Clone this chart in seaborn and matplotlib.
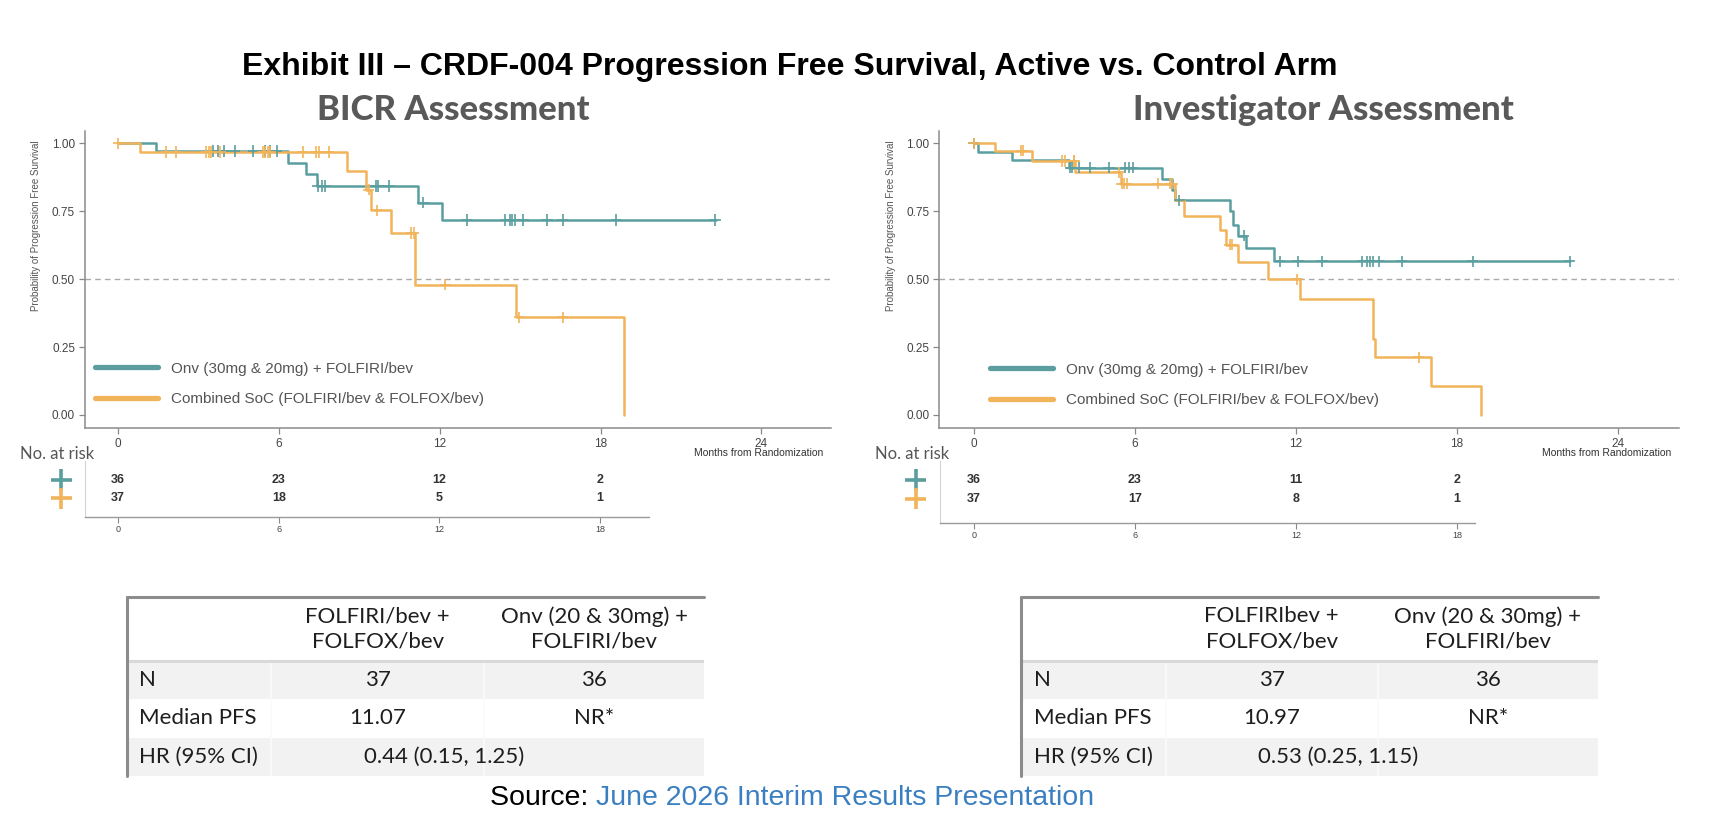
import numpy as np
import pandas as pd
import seaborn as sns
import matplotlib.pyplot as plt
import matplotlib.transforms as mtransforms
from matplotlib.lines import Line2D
from matplotlib.patches import Rectangle

# ---- data ----
arm_names = ["Onv (30mg & 20mg) + FOLFIRI/bev",
             "Combined SoC (FOLFIRI/bev & FOLFOX/bev)"]

# BICR assessment (step times in months, survival after each step)
onv_bicr_t = [0, 1.4, 6.35, 7.0, 7.4, 11.2, 12.07]
onv_bicr_s = [1.0, 0.972, 0.929, 0.886, 0.843, 0.781, 0.718]
onv_bicr_end = 22.3
onv_bicr_cens = [3.55, 3.73, 3.94, 4.34, 5.04, 5.48, 5.66, 5.92, 7.45, 7.59,
                 7.73, 9.61, 9.70, 10.1, 11.37, 13.0, 14.45, 14.62, 14.71,
                 14.8, 15.11, 16.0, 16.59, 18.58, 22.27]

soc_bicr_t = [0, 0.83, 8.52, 9.23, 9.44, 10.18, 11.07, 14.85, 18.87]
soc_bicr_s = [1.0, 0.968, 0.898, 0.83, 0.754, 0.67, 0.479, 0.36, 0.0]
soc_bicr_end = 18.87
soc_bicr_cens = [0.0, 1.79, 2.14, 3.29, 3.37, 3.46, 3.81, 5.40, 5.48, 5.57,
                 5.66, 6.89, 7.38, 7.50, 7.86, 9.35, 9.65, 10.93, 11.02,
                 12.2, 14.97, 16.59]

# Investigator assessment
onv_inv_t = [0, 0.18, 1.43, 3.56, 7.0, 7.40, 7.50, 9.53, 9.67, 9.85, 10.15, 11.17]
onv_inv_s = [1.0, 0.969, 0.938, 0.91, 0.87, 0.83, 0.79, 0.75, 0.70, 0.66, 0.615, 0.565]
onv_inv_end = 22.2
onv_inv_cens = [0.0, 3.6, 3.65, 3.92, 4.33, 5.04, 5.65, 5.79, 5.93, 7.66,
                10.06, 11.4, 12.08, 12.97, 14.48, 14.66, 14.75, 14.87,
                15.09, 15.94, 18.58, 22.2]

soc_inv_t = [0, 0.8, 2.17, 3.78, 5.49, 7.48, 7.84, 9.17, 9.39, 9.85, 10.95,
             12.17, 14.87, 14.96, 17.05, 18.88]
soc_inv_s = [1.0, 0.973, 0.935, 0.894, 0.852, 0.793, 0.734, 0.68, 0.627,
             0.562, 0.50, 0.427, 0.28, 0.212, 0.107, 0.0]
soc_inv_end = 18.88
soc_inv_cens = [0.0, 1.78, 1.84, 3.3, 3.4, 3.72, 3.75, 5.4, 5.52, 5.61, 5.7,
                6.86, 7.3, 7.39, 9.53, 9.62, 12.06, 16.57]

# numbers at risk
risk_months = [0, 6, 12, 18]
risk_onv_bicr = [36, 23, 12, 2]
risk_soc_bicr = [37, 18, 5, 1]
risk_onv_inv = [36, 23, 11, 2]
risk_soc_inv = [37, 17, 8, 1]

# summary tables
row_labels = ["N", "Median PFS", "HR (95% CI)"]
head_bicr = ["FOLFIRI/bev +\nFOLFOX/bev", "Onv (20 & 30mg) +\nFOLFIRI/bev"]
head_inv = ["FOLFIRIbev +\nFOLFOX/bev", "Onv (20 & 30mg) +\nFOLFIRI/bev"]
n_vals = ["37", "36"]
med_bicr = ["11.07", "NR*"]
med_inv = ["10.97", "NR*"]
hr_bicr = "0.44 (0.15, 1.25)"
hr_inv = "0.53 (0.25, 1.15)"

TEAL = "#5b9ea0"
ORANGE = "#f1b45a"
palette = {arm_names[0]: TEAL, arm_names[1]: ORANGE}

sns.set_style("white")
NARROW = ["Liberation Sans Narrow", "Liberation Sans", "DejaVu Sans"]
plt.rcParams["font.family"] = NARROW

fig = plt.figure(figsize=(17.26, 8.34), dpi=100)


def step_frame(t, s, end, name):
    tt = list(t)
    ss = list(s)
    if end > tt[-1]:
        tt.append(end)
        ss.append(ss[-1])
    return pd.DataFrame({"month": tt, "surv": ss, "arm": name})


def cens_frame(t, s, cens, name):
    idx = np.searchsorted(t, cens, side="right") - 1
    return pd.DataFrame({"month": cens, "surv": np.array(s)[idx], "arm": name})


def km_panel(ax, arms, xlim, leg_xy):
    steps = pd.concat([step_frame(t, s, e, n) for (t, s, e, c), n in zip(arms, arm_names)])
    cens = pd.concat([cens_frame(t, s, c, n) for (t, s, e, c), n in zip(arms, arm_names)])
    ax.axhline(0.5, color="#aaaaaa", ls=(0, (4, 3)), lw=1.0, zorder=1)
    sns.lineplot(data=steps, x="month", y="surv", hue="arm", palette=palette,
                 drawstyle="steps-post", lw=1.8, estimator=None, sort=False,
                 legend=False, ax=ax, zorder=2)
    sns.scatterplot(data=cens, x="month", y="surv", hue="arm", palette=palette,
                    marker="+", s=65, linewidth=1.2, legend=False, ax=ax, zorder=3)
    ax.set_xlim(*xlim)
    ax.set_ylim(-0.048, 1.045)
    ax.set_xticks([0, 6, 12, 18, 24])
    ax.set_yticks([0, 0.25, 0.5, 0.75, 1.0])
    ax.set_yticklabels(["0.00", "0.25", "0.50", "0.75", "1.00"])
    ax.set_xlabel("")
    ax.set_ylabel("Probability of Progression Free Survival", fontsize=7,
                  color="#555555", family="Liberation Sans")
    ax.yaxis.set_label_coords(-0.0586, 0.68)
    ax.tick_params(axis="both", length=4, width=0.9, color="#888888",
                   labelsize=8.5, labelcolor="#444444", pad=3,
                   bottom=True, left=True)
    sns.despine(ax=ax)
    for sp in ("left", "bottom"):
        ax.spines[sp].set_color("#8a8a8a")
        ax.spines[sp].set_linewidth(1.1)
    ax.text(0.99, -0.083, "Months from Randomization", transform=ax.transAxes,
            ha="right", va="center", fontsize=7.5, color="#333333")
    handles = [Line2D([0], [0], color=c, lw=3.8) for c in (TEAL, ORANGE)]
    ax.legend(handles, arm_names, loc="center left", bbox_to_anchor=leg_xy,
              frameon=False, handlelength=4.1, handletextpad=0.85,
              labelspacing=1.1, borderaxespad=0, borderpad=0,
              prop={"family": NARROW, "size": 11}, labelcolor="#555555")


def risk_panel(ax, onv, soc, xlim, ymax, mark_x):
    ax.set_xlim(*xlim)
    ax.set_ylim(ymax, 0)
    for m, a, b in zip(risk_months, onv, soc):
        ax.text(m, 1, str(a), ha="center", va="center", fontsize=9,
                weight="bold", color="#333333")
        ax.text(m, 2, str(b), ha="center", va="center", fontsize=9,
                weight="bold", color="#333333")
    trans = mtransforms.blended_transform_factory(ax.transAxes, ax.transData)
    ax.scatter([mark_x, mark_x], [1, 2], marker="+", s=230, linewidths=2.6,
               c=[TEAL, ORANGE], transform=trans, clip_on=False)
    ax.set_xticks(risk_months)
    ax.set_yticks([])
    ax.tick_params(axis="x", length=4, width=0.8, color="#888888",
                   labelsize=6.5, labelcolor="#444444", pad=2, bottom=True)
    sns.despine(ax=ax)
    ax.spines["left"].set_color("#d4d4d4")
    ax.spines["bottom"].set_color("#9a9a9a")
    ax.spines["bottom"].set_linewidth(1.0)
    ax.patch.set_alpha(0)


def table_panel(ax, heads, meds, hr):
    ax.set_xlim(0, 1)
    ax.set_ylim(1, 0)
    ax.axis("off")
    cols = [0, 0.2506, 0.6185, 1.0]
    rows = [0, 0.357, 0.571, 0.786, 1.0]
    fills = ["white", "#f2f2f2", "white", "#f2f2f2"]
    for i in range(4):
        ax.add_patch(Rectangle((0, rows[i]), 1, rows[i + 1] - rows[i],
                               facecolor=fills[i], edgecolor="none"))
    for cx in cols[1:3]:
        ax.plot([cx, cx], [rows[1], rows[3]], color="#fbfbfb", lw=1.2)
        ax.plot([cx, cx], [rows[3], rows[4]], color="#fbfbfb", lw=1.2)
    ax.plot([0, 1], [rows[1], rows[1]], color="#d9d9d9", lw=2.2)
    ax.plot([0, 1], [0, 0], color="#8c8c8c", lw=2.2, clip_on=False)
    ax.plot([0, 0], [0, 1], color="#8c8c8c", lw=2.2, clip_on=False)
    tfont = {"family": ["Lato", "DejaVu Sans"], "size": 16, "color": "#1e1e1e"}
    for j, h in enumerate(heads):
        ax.text((cols[j + 1] + cols[j + 2]) / 2, rows[1] / 2, h, ha="center",
                va="center", linespacing=1.3, **tfont)
    for i, lab in enumerate(row_labels):
        ax.text(0.022, (rows[i + 1] + rows[i + 2]) / 2, lab, ha="left",
                va="center", **tfont)
    for j in range(2):
        cx = (cols[j + 1] + cols[j + 2]) / 2
        ax.text(cx, (rows[1] + rows[2]) / 2, n_vals[j], ha="center", va="center", **tfont)
        ax.text(cx, (rows[2] + rows[3]) / 2, meds[j], ha="center", va="center", **tfont)
    ax.text(0.55, (rows[3] + rows[4]) / 2, hr, ha="center", va="center", **tfont)


# Kaplan-Meier panels
ax_l = fig.add_axes([0.0491, 0.4868, 0.4324, 0.356])
km_panel(ax_l, [(onv_bicr_t, onv_bicr_s, onv_bicr_end, onv_bicr_cens),
                (soc_bicr_t, soc_bicr_s, soc_bicr_end, soc_bicr_cens)],
         (-1.25, 26.6), (0.0138, 0.148))
ax_r = fig.add_axes([0.5442, 0.4868, 0.4286, 0.356])
km_panel(ax_r, [(onv_inv_t, onv_inv_s, onv_inv_end, onv_inv_cens),
                (soc_inv_t, soc_inv_s, soc_inv_end, soc_inv_cens)],
         (-1.28, 26.27), (0.0685, 0.145))

# numbers at risk
rk_l = fig.add_axes([0.049, 0.3801, 0.3273, 0.0671])
risk_panel(rk_l, risk_onv_bicr, risk_soc_bicr, (-1.255, 19.85), 3.0, -0.0409)
rk_r = fig.add_axes([0.5446, 0.3729, 0.31, 0.0743])
risk_panel(rk_r, risk_onv_inv, risk_soc_inv, (-1.255, 18.67), 3.3, -0.0449)
for xc in (57, 912):
    fig.text(xc / 1726, 1 - 454 / 834, "No. at risk", ha="center", va="center",
             fontsize=12, color="#555555", family=["Lato", "DejaVu Sans"])

# summary tables
tb_l = fig.add_axes([0.07335, 0.0695, 0.3348, 0.215])
table_panel(tb_l, head_bicr, med_bicr, hr_bicr)
tb_r = fig.add_axes([0.5915, 0.0695, 0.3343, 0.215])
table_panel(tb_r, head_inv, med_inv, hr_inv)

# titles
fig.text(790 / 1726, 1 - 67 / 834,
         "Exhibit III \u2013 CRDF-004 Progression Free Survival, Active vs. Control Arm",
         ha="center", va="center", fontsize=23, weight="bold",
         family=["Liberation Sans", "DejaVu Sans"], color="black")
for xc, txt in ((453, "BICR Assessment"), (1323, "Investigator Assessment")):
    fig.text(xc / 1726, 1 - 110 / 834, txt, ha="center", va="center",
             fontsize=25, weight="black", color="#595959",
             family=["Lato", "DejaVu Sans"])

# source line
src = fig.text(490 / 1726, 1 - 798 / 834, "Source: ", ha="left", va="center",
               fontsize=20.5, family=["Liberation Sans", "DejaVu Sans"], color="black")
fig.canvas.draw()
bb = src.get_window_extent().transformed(fig.transFigure.inverted())
fig.text(bb.x1, 1 - 798 / 834, "June 2026 Interim Results Presentation",
         ha="left", va="center", fontsize=20.5,
         family=["Liberation Sans", "DejaVu Sans"], color="#3a7fc1")

fig.savefig("out.png", dpi=100, facecolor="white")
